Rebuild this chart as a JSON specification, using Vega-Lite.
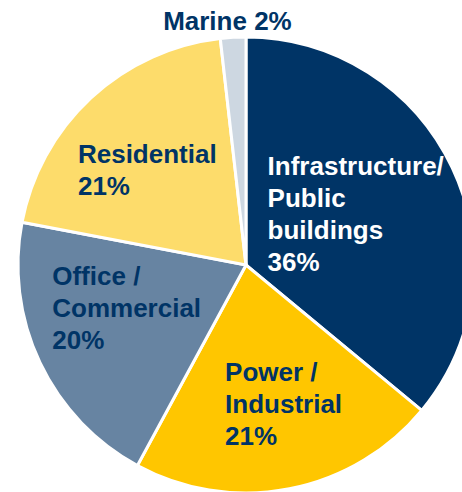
{
  "$schema": "https://vega.github.io/schema/vega-lite/v6.json",
  "width": 462,
  "height": 492,
  "autosize": {"type": "none"},
  "padding": 0,
  "background": "white",
  "config": {
    "view": {"stroke": null},
    "text": {"font": "Liberation Sans", "fontWeight": "bold", "fontSize": 26, "lineHeight": 32, "align": "left", "baseline": "middle", "lineBreak": "\n"}
  },
  "data": {
    "values": [
      {"category": "Infrastructure", "label": "Infrastructure/\nPublic\nbuildings\n36%", "value": 36.0, "rank": 1},
      {"category": "Power", "label": "Power /\nIndustrial\n21%", "value": 21.9, "rank": 2},
      {"category": "Office", "label": "Office /\nCommercial\n20%", "value": 20.1, "rank": 3},
      {"category": "Residential", "label": "Residential\n21%", "value": 20.2, "rank": 4},
      {"category": "Marine", "label": "Marine 2%", "value": 1.8, "rank": 5}
    ]
  },
  "encoding": {
    "theta": {"field": "value", "type": "quantitative", "stack": true},
    "order": {"field": "rank", "type": "quantitative"}
  },
  "layer": [
    {
      "mark": {"type": "arc", "x": 246, "y": 265, "outerRadius": 228, "stroke": "white", "strokeWidth": 3},
      "encoding": {
        "color": {
          "field": "category", "type": "nominal", "legend": null,
          "scale": {"domain": ["Infrastructure", "Power", "Office", "Residential", "Marine"], "range": ["#003466", "#FFC600", "#6784A2", "#FDDC6B", "#CDD7E1"]}
        }
      }
    },
    {
      "mark": {"type": "text", "x": 246, "y": 265, "radius": 120, "dx": -87, "dy": -47, "fill": "white"},
      "encoding": {"text": {"condition": {"test": "datum.category === 'Infrastructure'", "field": "label", "type": "nominal"}, "value": ""}}
    },
    {
      "mark": {"type": "text", "x": 246, "y": 265, "radius": 142, "dx": -48, "dy": -31, "fill": "#003466"},
      "encoding": {"text": {"condition": {"test": "datum.category === 'Power'", "field": "label", "type": "nominal"}, "value": ""}}
    },
    {
      "mark": {"type": "text", "x": 246, "y": 265, "radius": 106, "dx": -98, "dy": -33, "fill": "#003466"},
      "encoding": {"text": {"condition": {"test": "datum.category === 'Office'", "field": "label", "type": "nominal"}, "value": ""}}
    },
    {
      "mark": {"type": "text", "x": 246, "y": 265, "radius": 129.5, "dx": -80, "dy": -15, "fill": "#003466"},
      "encoding": {"text": {"condition": {"test": "datum.category === 'Residential'", "field": "label", "type": "nominal"}, "value": ""}}
    },
    {
      "mark": {"type": "text", "x": 246, "y": 265, "radius": 245.4, "dx": -69, "dy": 2, "fill": "#003466"},
      "encoding": {"text": {"condition": {"test": "datum.category === 'Marine'", "field": "label", "type": "nominal"}, "value": ""}}
    }
  ]
}
